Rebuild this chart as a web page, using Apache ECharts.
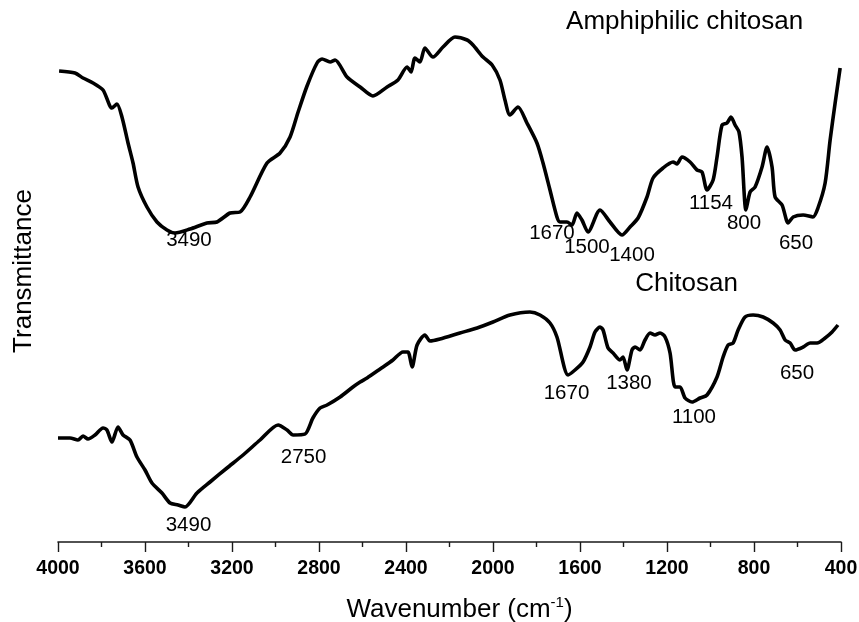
<!DOCTYPE html>
<html>
<head>
<meta charset="utf-8">
<script src="https://cdn.jsdelivr.net/npm/echarts@6/dist/echarts.min.js"></script>
<style>html,body{margin:0;padding:0;background:#fff}#c{width:859px;height:622px}</style>
</head>
<body>
<div id="c"></div>
<script>
// Wavenumber (cm-1) and transmittance (arbitrary units)
const amphiWave = [3995,3922,3885,3839,3793,3752,3729,3706,3678,3655,3632,3591,3545,3499,3462,3393,3315,3269,3209,3163,3117,3039,2979,2933,2896,2855,2809,2786,2749,2726,2671,2611,2552,2487,2437,2395,2377,2359,2336,2313,2276,2230,2175,2119,2092,2046,2004,1968,1945,1922,1885,1844,1798,1770,1738,1706,1692,1660,1637,1614,1591,1563,1508,1462,1407,1370,1333,1292,1264,1218,1172,1154,1131,1094,1062,1039,1016,988,970,947,924,906,887,869,855,837,818,795,763,740,717,703,671,643,620,574,529,506,473,450,427,404];
const amphiT = [471,469,464,459,452,434,438,425,399,379,355,335,320,312,309,313,319,320,329,330,345,379,389,405,430,456,479,483,480,482,465,455,446,455,462,475,470,484,480,494,485,495,505,502,497,485,477,462,442,427,435,419,399,379,352,325,320,320,317,329,322,310,332,320,307,315,324,345,364,374,380,378,385,380,372,370,352,362,385,417,419,425,417,410,385,332,350,355,375,395,375,345,337,319,325,327,325,334,359,402,439,474];

const chitoWave = [4000,3945,3908,3885,3862,3830,3793,3775,3752,3724,3701,3669,3637,3600,3568,3522,3485,3448,3416,3361,3301,3223,3149,3071,2988,2947,2919,2864,2828,2795,2763,2703,2644,2611,2579,2519,2460,2414,2391,2372,2349,2313,2290,2244,2152,2073,2000,1922,1830,1784,1738,1706,1655,1623,1586,1554,1531,1508,1494,1471,1448,1416,1402,1384,1361,1347,1324,1301,1278,1255,1232,1209,1186,1163,1140,1117,1085,1048,1016,970,942,919,896,873,841,804,758,712,680,657,634,611,574,542,510,473,441,414];
const chitoT = [104,104,102,106,103,107,114,112,100,115,107,102,85,72,59,49,39,37,35,49,60,74,87,102,117,112,107,108,124,134,137,145,155,160,164,173,182,190,190,175,197,207,201,203,209,214,220,227,230,227,219,205,167,172,180,195,210,215,212,194,189,182,185,172,192,195,192,202,209,207,209,205,189,155,155,144,140,144,147,165,185,197,199,212,225,227,225,219,212,202,199,192,195,199,199,204,210,217];

const xTicks = [4000,3600,3200,2800,2400,2000,1600,1200,800,400];

// Peak annotations: [wavenumber, transmittance, text]
const peakLabels = [
  [3398,302,'3490'],[1729,309,'1670'],[1568,295,'1500'],[1361,287,'1400'],
  [998,339,'1154'],[846,319,'800'],[607,299,'650'],
  [3400,17,'3490'],[2871,85,'2750'],[1662,149,'1670'],[1375,159,'1380'],
  [1076,125,'1100'],[602,169,'650']
];
const curveTitles = [[1119,520,'Amphiphilic chitosan'],[1110,258,'Chitosan']];

const zip = (a,b) => a.map((v,i)=>[v,b[i]]);
const chart = echarts.init(document.getElementById('c'), null, {renderer:'canvas'});
const FONT = 'Liberation Sans, Arial, sans-serif';
chart.setOption({
  animation:false,
  backgroundColor:'#fff',
  grid:{left:58,right:18,top:0,bottom:80,containLabel:false,outerBoundsMode:'none'},
  xAxis:{
    type:'value', inverse:true, min:400, max:4000, interval:400,
    axisLine:{show:true,lineStyle:{color:'#1a1a1a',width:1.6}},
    axisTick:{show:true,inside:false,length:10,lineStyle:{color:'#1a1a1a',width:1.4}},
    minorTick:{show:true,splitNumber:2,length:5,lineStyle:{color:'#1a1a1a',width:1.4}},
    splitLine:{show:false},
    axisLabel:{fontFamily:FONT,fontWeight:'bold',fontSize:19.5,color:'#000',margin:17,
      formatter:v=>String(v)},
    name:'{a|Wavenumber (cm}{s|-1}{a|)}', nameLocation:'middle', nameGap:53,
    nameTextStyle:{padding:[0,0,0,20],rich:{
      a:{fontFamily:FONT,fontSize:26,color:'#000',verticalAlign:'bottom'},
      s:{fontFamily:FONT,fontSize:15,color:'#000',verticalAlign:'top',padding:[0,0,13,0]}
    }}
  },
  yAxis:{
    type:'value', min:0, max:542,
    axisLine:{show:false}, axisTick:{show:false}, axisLabel:{show:false}, splitLine:{show:false},
    name:'Transmittance', nameLocation:'middle', nameRotate:90, nameGap:21,
    nameTextStyle:{fontFamily:FONT,fontSize:26,color:'#000'}
  },
  series:[
    {type:'line',name:'Amphiphilic chitosan',data:zip(amphiWave,amphiT),showSymbol:false,smooth:0.25,
     lineStyle:{color:'#000',width:3.6},z:3},
    {type:'line',name:'Chitosan',data:zip(chitoWave,chitoT),showSymbol:false,smooth:0.25,
     lineStyle:{color:'#000',width:3.6},z:3},
    {type:'scatter',symbolSize:1,silent:true,itemStyle:{opacity:1,color:'rgba(0,0,0,0)'},
     data:peakLabels.map(p=>({value:[p[0],p[1]],name:p[2]})),
     label:{show:true,position:'inside',formatter:p=>p.name,fontFamily:FONT,fontSize:20.5,color:'#000'},z:4},
    {type:'scatter',symbolSize:1,silent:true,itemStyle:{opacity:1,color:'rgba(0,0,0,0)'},
     data:curveTitles.map(p=>({value:[p[0],p[1]],name:p[2]})),
     label:{show:true,position:'inside',formatter:p=>p.name,fontFamily:FONT,fontSize:26,color:'#000'},z:4}
  ]
});
</script>
</body>
</html>
